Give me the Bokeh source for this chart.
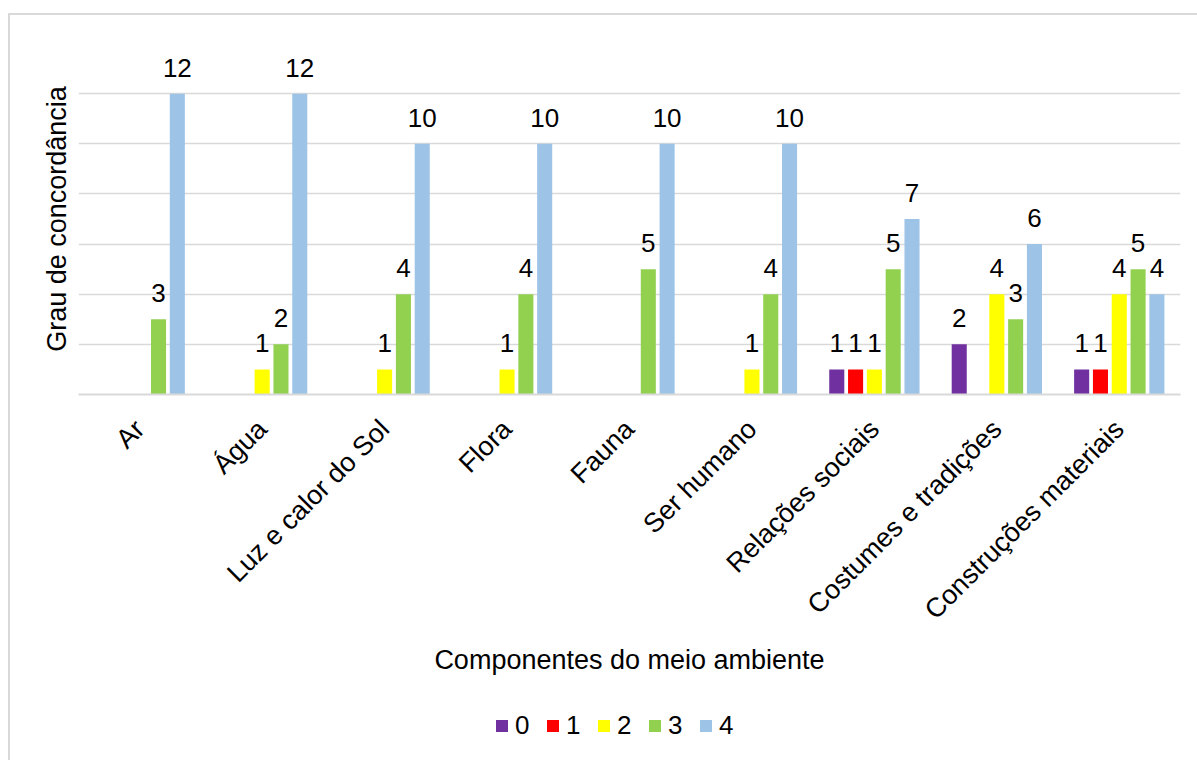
import math
from bokeh.plotting import figure
from bokeh.layouts import column
from bokeh.models import (ColumnDataSource, FactorRange, Range1d, LabelSet, Legend,
                          LegendItem, SingleIntervalTicker, FixedTicker)
from bokeh.transform import dodge
from bokeh.core.properties import value
from bokeh.embed import file_html
from bokeh.resources import INLINE

categories = ["Ar", "Água", "Luz e calor do Sol", "Flora", "Fauna", "Ser humano",
              "Relações sociais", "Costumes e tradições", "Construções materiais"]
series_names = ["0", "1", "2", "3", "4"]
s0 = [0, 0, 0, 0, 0, 0, 1, 2, 1]
s1 = [0, 0, 0, 0, 0, 0, 1, 0, 1]
s2 = [0, 1, 1, 1, 0, 1, 1, 4, 4]
s3 = [3, 2, 4, 4, 5, 4, 5, 3, 5]
s4 = [12, 12, 10, 10, 10, 10, 7, 6, 4]
series = [s0, s1, s2, s3, s4]
colors = ["#7030A0", "#FF0000", "#FFFF00", "#92D050", "#9DC3E6"]

FONT = "Liberation Sans"
FS = "27px"

p = figure(width=1197, height=705, x_range=FactorRange(factors=categories, range_padding=0),
           y_range=Range1d(0, 14), output_backend="svg", toolbar_location=None,
           min_border_left=78, min_border_right=17, min_border_top=43, min_border_bottom=311)
p.outline_line_color = None
p.background_fill_color = "white"
p.border_fill_alpha = 0

slot = 0.1536
bw = 0.123
for k, (name, vals, col) in enumerate(zip(series_names, series, colors)):
    off = (k - 2) * slot
    src = ColumnDataSource(dict(cat=categories, val=vals))
    p.vbar(x=dodge("cat", off, range=p.x_range), top="val", width=bw, source=src,
           fill_color=col, line_color=None)
    nz = [(c, v) for c, v in zip(categories, vals) if v != 0]
    lsrc = ColumnDataSource(dict(cat=[c for c, v in nz], val=[v for c, v in nz],
                                 txt=[str(v) for c, v in nz]))
    lab = LabelSet(x=dodge("cat", off, range=p.x_range), y="val", text="txt", source=lsrc,
                   text_align="center", text_baseline="alphabetic", y_offset=17,
                   text_font=value(FONT), text_font_size="26px", text_color="#000000")
    p.add_layout(lab)

# grid / axes
p.xgrid.grid_line_color = None
p.ygrid.ticker = SingleIntervalTicker(interval=2)
p.ygrid.grid_line_color = "#d9d9d9"
p.ygrid.grid_line_width = 1.5

p.yaxis.ticker = FixedTicker(ticks=[])
p.yaxis.axis_line_color = None
p.yaxis.major_tick_line_color = None
p.yaxis.minor_tick_line_color = None
p.yaxis.major_label_standoff = 0
p.yaxis.axis_label = "Grau de concordância"
p.yaxis.axis_label_text_font = FONT
p.yaxis.axis_label_text_font_size = FS
p.yaxis.axis_label_text_font_style = "normal"
p.yaxis.axis_label_text_color = "#000000"
p.yaxis.axis_label_standoff = 7

p.xaxis.axis_line_color = "#d9d9d9"
p.xaxis.axis_line_width = 2
p.xaxis.major_tick_line_color = None
p.xaxis.minor_tick_line_color = None
p.xaxis.major_label_orientation = math.pi / 4
p.xaxis.major_label_text_font = FONT
p.xaxis.major_label_text_font_size = FS
p.xaxis.major_label_text_color = "#000000"
p.xaxis.major_label_standoff = 24
p.xaxis.axis_label = "Componentes do meio ambiente"
p.xaxis.axis_label_text_font = FONT
p.xaxis.axis_label_text_font_size = FS
p.xaxis.axis_label_text_font_style = "normal"
p.xaxis.axis_label_text_color = "#000000"
p.xaxis.axis_label_standoff = 6

# legend strip (its frame is aligned with the chart frame by the column layout)
leg = figure(width=1197, height=55, x_range=Range1d(0, 1), y_range=Range1d(0, 1),
             output_backend="svg", toolbar_location=None, x_axis_type=None, y_axis_type=None,
             min_border_left=78, min_border_right=17, min_border_top=0, min_border_bottom=0)
leg.outline_line_color = None
leg.background_fill_alpha = 0
leg.border_fill_alpha = 0
leg.xgrid.visible = False
leg.ygrid.visible = False
items = []
for name, col in zip(series_names, colors):
    # zero-height swatch carrier: draws nothing itself, gives the legend its colour
    r = leg.vbar(x=0, bottom=0, top=0, width=0, fill_color=col, line_color=None)
    items.append(LegendItem(label=name, renderers=[r]))
legend = Legend(items=items, orientation="horizontal", location=(416, 19),
                glyph_width=15, glyph_height=15, label_standoff=6, spacing=15,
                padding=0, margin=0, border_line_alpha=0, background_fill_alpha=0,
                label_text_font=FONT, label_text_font_size="26px", label_height=30,
                label_width=15, label_text_color="#000000")
leg.add_layout(legend, "center")

layout = column(p, leg, spacing=0)
layout.styles = {
    "background": "linear-gradient(#d9d9d9,#d9d9d9) 8px 13px / 2px 100% no-repeat, "
                  "linear-gradient(#d9d9d9,#d9d9d9) 8px 13px / 100% 2px no-repeat, #ffffff",
}

open("out.html", "w").write(file_html(layout, INLINE))
